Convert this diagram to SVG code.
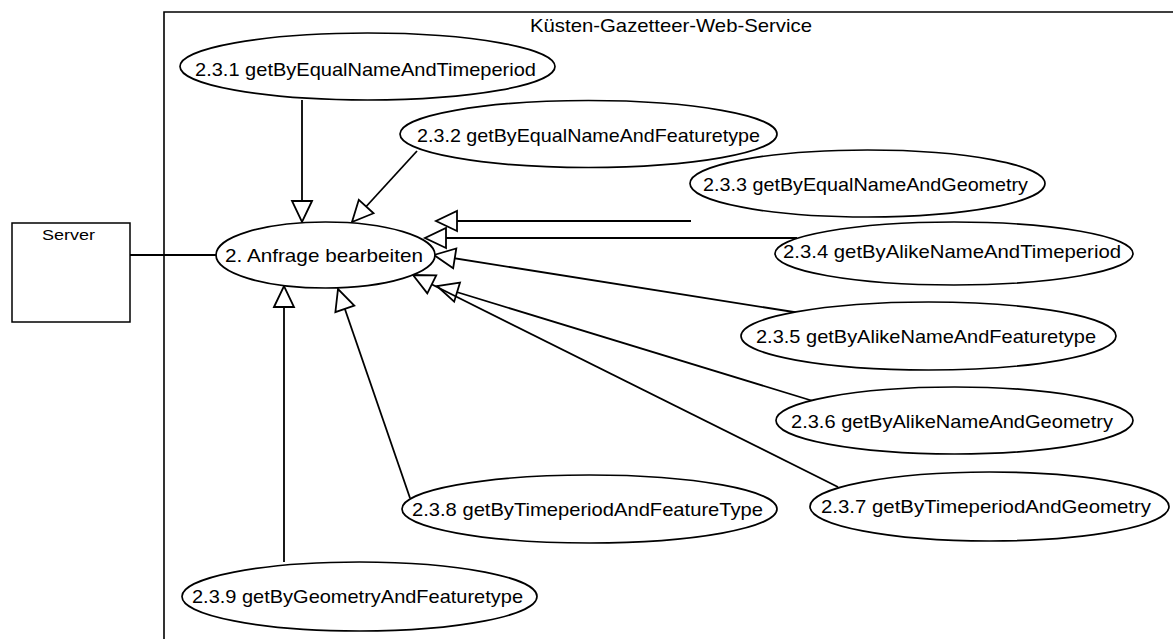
<svg xmlns="http://www.w3.org/2000/svg" width="1173" height="639" viewBox="0 0 1173 639">
  <style>
    .uc { fill: #ffffff; stroke: #000000; stroke-width: 1.7; }
    .box { fill: #ffffff; stroke: #000000; stroke-width: 1.5; }
    .lbl { font-family: "Liberation Sans", Arial, sans-serif; font-size: 19px; fill: #000000; }
    .edge { stroke: #000000; stroke-width: 1.8; fill: none; }
    .gen { marker-end: url(#hollow); }
  </style>
  <defs>
    <!-- UML generalization: hollow triangle at the parent end -->
    <marker id="hollow" markerUnits="userSpaceOnUse" markerWidth="26" markerHeight="26" refX="22" refY="11" orient="auto" overflow="visible">
      <path d="M1,1 L22,11 L1,21 Z" fill="#ffffff" stroke="#000000" stroke-width="1.8" stroke-linejoin="miter"/>
    </marker>
  </defs>

  <rect width="1173" height="639" fill="#ffffff"/>

  <!-- system boundary -->
  <g id="system">
    <path d="M164,645 V12 H1180" fill="none" stroke="#000000" stroke-width="1.6"/>
    <text class="lbl" x="530" y="32" textLength="282" lengthAdjust="spacingAndGlyphs">Küsten-Gazetteer-Web-Service</text>
  </g>

  <!-- connectors -->
  <g id="connectors">
    <line class="edge" x1="130" y1="255" x2="216" y2="255"/>
    <line class="edge gen" x1="302" y1="100" x2="302" y2="222"/>
    <line class="edge gen" x1="417" y1="151" x2="352" y2="222"/>
    <line class="edge gen" x1="691" y1="221" x2="436" y2="221"/>
    <line class="edge gen" x1="797" y1="238" x2="425" y2="238"/>
    <line class="edge gen" x1="800" y1="313" x2="434" y2="255"/>
    <line class="edge gen" x1="813" y1="401" x2="437" y2="286"/>
    <line class="edge gen" x1="838" y1="487" x2="413" y2="275"/>
    <line class="edge gen" x1="410" y1="498" x2="338" y2="289"/>
    <line class="edge gen" x1="284" y1="562" x2="284" y2="286"/>
  </g>

  <!-- actor box -->
  <g id="server">
    <rect class="box" x="12" y="223" width="118" height="99"/>
    <text class="lbl" x="42" y="240" style="font-size:15px" textLength="53" lengthAdjust="spacingAndGlyphs">Server</text>
  </g>

  <!-- use cases -->
  <g id="uc-2">
    <ellipse class="uc" cx="325.5" cy="255" rx="109.5" ry="33"/>
    <text class="lbl" x="225" y="262" textLength="198" lengthAdjust="spacingAndGlyphs">2. Anfrage bearbeiten</text>
  </g>
  <g id="uc-2-3-1">
    <ellipse class="uc" cx="367.5" cy="66.5" rx="187.5" ry="33.5"/>
    <text class="lbl" x="195" y="75.5" textLength="341" lengthAdjust="spacingAndGlyphs">2.3.1 getByEqualNameAndTimeperiod</text>
  </g>
  <g id="uc-2-3-2">
    <ellipse class="uc" cx="588.5" cy="134" rx="188.5" ry="33.5"/>
    <text class="lbl" x="417" y="141.5" textLength="343" lengthAdjust="spacingAndGlyphs">2.3.2 getByEqualNameAndFeaturetype</text>
  </g>
  <g id="uc-2-3-3">
    <ellipse class="uc" cx="867.5" cy="183.5" rx="177.5" ry="33.5"/>
    <text class="lbl" x="703" y="190.5" textLength="325" lengthAdjust="spacingAndGlyphs">2.3.3 getByEqualNameAndGeometry</text>
  </g>
  <g id="uc-2-3-4">
    <ellipse class="uc" cx="954" cy="253.5" rx="179" ry="31.5"/>
    <text class="lbl" x="783" y="257.5" textLength="338" lengthAdjust="spacingAndGlyphs">2.3.4 getByAlikeNameAndTimeperiod</text>
  </g>
  <g id="uc-2-3-5">
    <ellipse class="uc" cx="928.5" cy="336" rx="187.5" ry="34"/>
    <text class="lbl" x="756" y="342.5" textLength="340" lengthAdjust="spacingAndGlyphs">2.3.5 getByAlikeNameAndFeaturetype</text>
  </g>
  <g id="uc-2-3-6">
    <ellipse class="uc" cx="954.5" cy="420.5" rx="178.5" ry="33.5"/>
    <text class="lbl" x="791" y="428" textLength="322" lengthAdjust="spacingAndGlyphs">2.3.6 getByAlikeNameAndGeometry</text>
  </g>
  <g id="uc-2-3-7">
    <ellipse class="uc" cx="989.5" cy="506.5" rx="179.5" ry="34.5"/>
    <text class="lbl" x="821" y="513" textLength="330" lengthAdjust="spacingAndGlyphs">2.3.7 getByTimeperiodAndGeometry</text>
  </g>
  <g id="uc-2-3-8">
    <ellipse class="uc" cx="589.5" cy="509" rx="187.5" ry="34"/>
    <text class="lbl" x="412" y="515.5" textLength="351" lengthAdjust="spacingAndGlyphs">2.3.8 getByTimeperiodAndFeatureType</text>
  </g>
  <g id="uc-2-3-9">
    <ellipse class="uc" cx="359.5" cy="596.5" rx="177.5" ry="34.5"/>
    <text class="lbl" x="192" y="603" textLength="331" lengthAdjust="spacingAndGlyphs">2.3.9 getByGeometryAndFeaturetype</text>
  </g>
</svg>
